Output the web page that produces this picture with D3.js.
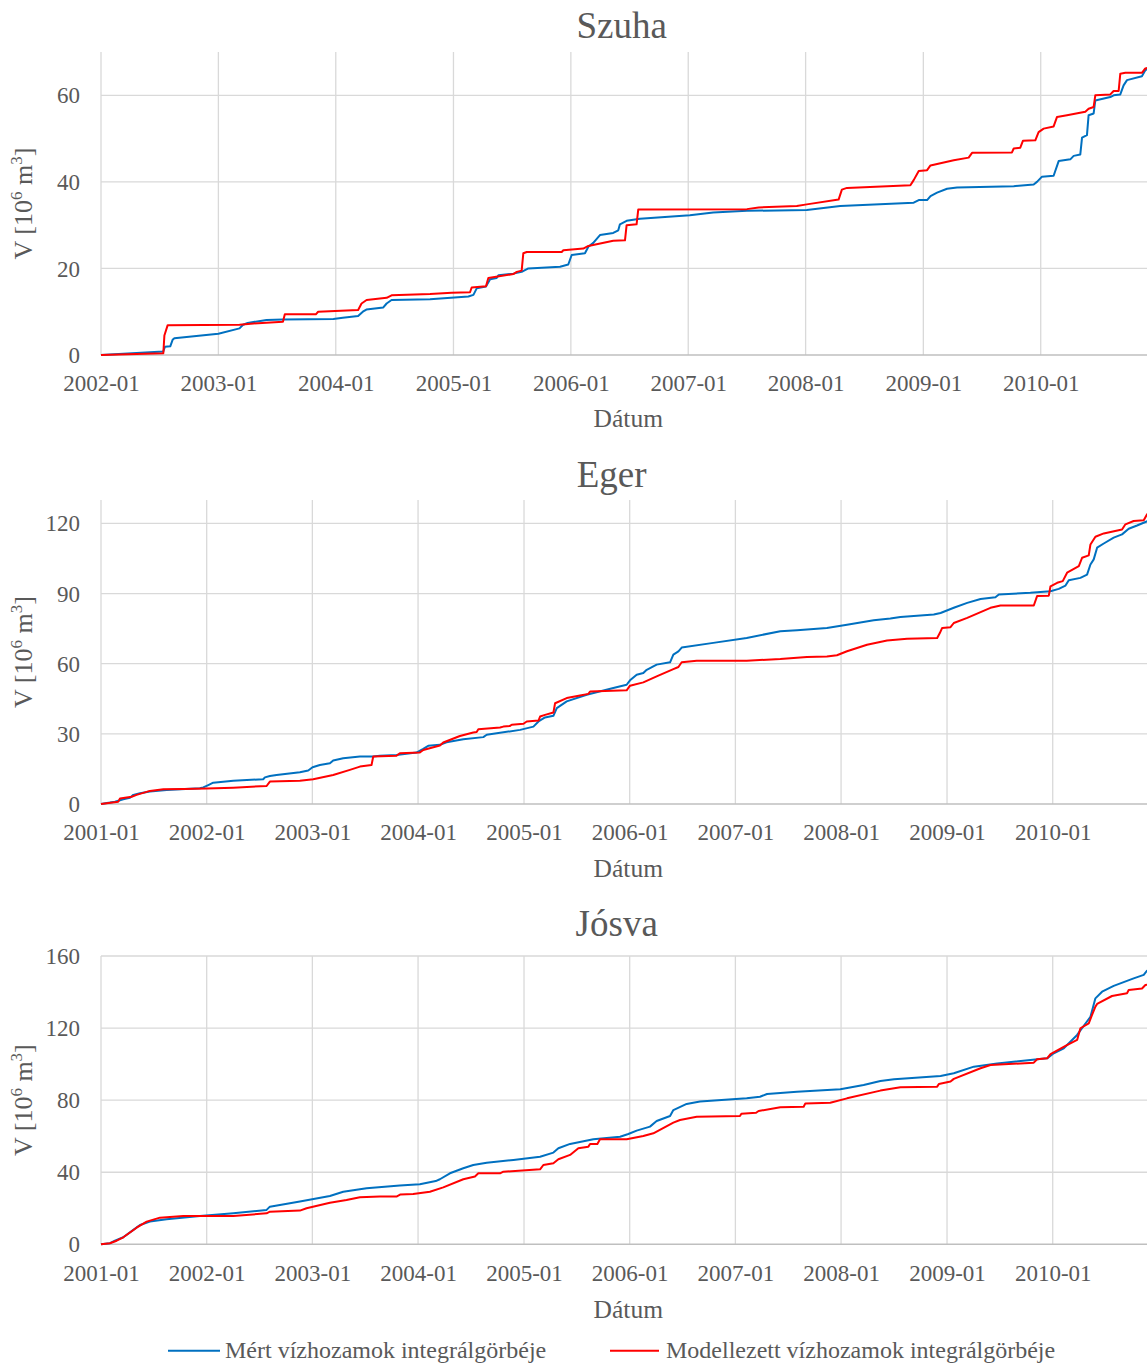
<!DOCTYPE html>
<html>
<head>
<meta charset="utf-8">
<script src="https://cdn.jsdelivr.net/npm/d3@7"></script>
<style>
  body { margin: 0; background: #fff; }
  svg { display: block; }
  text { font-family: "Liberation Serif", "Times New Roman", serif; fill: #595959; }
</style>
</head>
<body>
<svg id="chart" width="1147" height="1364"></svg>
<script>
// Cumulative runoff volume curves [decimal year, V in 10^6 m3]

const szuhaMert = [
  [2002.0,0],[2002.53,0.8],[2002.545,1.9],[2002.59,2.0],[2002.61,3.5],[2002.625,3.85],
  [2003.0,4.9],[2003.18,6.15],[2003.21,7.0],[2003.25,7.4],[2003.41,8.1],[2003.55,8.2],
  [2003.98,8.3],[2004.06,8.6],[2004.19,9.0],[2004.23,10.0],[2004.26,10.5],[2004.404,11.0],
  [2004.432,11.9],[2004.474,12.7],[2004.801,12.9],[2005.127,13.5],[2005.17,13.9],[2005.198,15.4],
  [2005.277,15.8],[2005.312,17.5],[2005.368,17.8],[2005.383,18.4],[2005.51,18.8],[2005.581,19.2],
  [2005.638,20.0],[2005.908,20.4],[2005.978,20.9],[2006.007,23.1],[2006.12,23.5],[2006.149,25.0],
  [2006.191,25.9],[2006.248,27.7],[2006.361,28.2],[2006.404,28.8],[2006.418,30.2],[2006.475,31.0],
  [2006.589,31.5],[2007.014,32.3],[2007.213,32.9],[2007.5,33.3],[2008.01,33.5],[2008.294,34.4],
  [2008.918,35.2],[2008.961,35.8],[2009.032,35.8],[2009.061,36.7],[2009.117,37.5],[2009.202,38.4],
  [2009.287,38.7],[2009.77,39.0],[2009.94,39.4],[2009.968,40.0],[2010.011,41.2],[2010.11,41.4],
  [2010.153,44.8],[2010.252,45.2],[2010.281,46.0],[2010.337,46.3],[2010.352,50.2],[2010.394,50.8],
  [2010.408,55.4],[2010.451,55.8],[2010.465,58.8],[2010.593,59.6],[2010.621,60.0],[2010.678,60.2],
  [2010.706,62.3],[2010.735,63.5],[2010.862,64.4],[2010.891,65.8],[2010.93,66.3]
];
const szuhaModell = [
  [2002.0,0],[2002.531,0.4],[2002.54,4.5],[2002.568,6.9],[2003.18,7.0],[2003.3,7.3],
  [2003.55,7.7],[2003.566,9.4],[2003.83,9.4],[2003.85,10.0],[2004.19,10.4],[2004.219,11.9],
  [2004.262,12.7],[2004.432,13.2],[2004.474,13.8],[2004.801,14.1],[2004.985,14.4],[2005.141,14.5],
  [2005.155,15.6],[2005.277,15.9],[2005.297,17.8],[2005.51,18.7],[2005.539,19.2],[2005.581,19.5],
  [2005.595,23.5],[2005.624,23.8],[2005.922,23.8],[2005.936,24.2],[2006.106,24.6],[2006.149,25.2],
  [2006.361,26.4],[2006.461,26.5],[2006.475,30.0],[2006.56,30.2],[2006.574,33.6],[2007.5,33.7],
  [2007.6,34.1],[2007.925,34.4],[2008.01,34.8],[2008.28,35.9],[2008.308,38.2],[2008.351,38.6],
  [2008.89,39.2],[2008.918,40.4],[2008.961,42.5],[2009.032,42.7],[2009.061,43.8],[2009.259,45.0],
  [2009.386,45.6],[2009.415,46.7],[2009.755,46.8],[2009.77,47.7],[2009.826,47.9],[2009.849,49.5],
  [2009.954,49.6],[2009.982,51.5],[2010.025,52.3],[2010.11,52.8],[2010.139,55.0],[2010.224,55.4],
  [2010.38,56.2],[2010.408,56.9],[2010.451,57.3],[2010.465,60.0],[2010.593,60.2],[2010.621,61.0],
  [2010.664,61.0],[2010.678,65.0],[2010.721,65.2],[2010.862,65.2],[2010.891,66.2],[2010.93,66.4]
];

const egerMert = [
  [2001.0,0],[2001.085,0.6],[2001.132,1.0],[2001.164,1.4],[2001.211,2.0],[2001.274,2.7],
  [2001.306,3.9],[2001.369,4.6],[2001.463,5.3],[2001.621,6.0],[2001.936,6.7],[2001.968,7.1],
  [2002.015,8.1],[2002.062,9.1],[2002.252,9.9],[2002.535,10.6],[2002.551,11.4],[2002.598,12.0],
  [2002.661,12.4],[2002.882,13.6],[2002.961,14.3],[2003.002,15.7],[2003.071,16.7],[2003.166,17.4],
  [2003.197,18.6],[2003.292,19.6],[2003.45,20.3],[2003.576,20.3],[2003.639,20.6],[2003.796,21.0],
  [2003.985,22.0],[2004.049,23.6],[2004.096,24.9],[2004.206,25.3],[2004.269,26.4],[2004.427,27.7],
  [2004.616,28.6],[2004.648,29.6],[2004.963,31.7],[2005.089,33.1],[2005.137,35.3],[2005.199,37.0],
  [2005.278,37.7],[2005.31,41.0],[2005.404,43.9],[2005.593,46.7],[2005.845,49.6],[2005.971,51.0],
  [2006.003,52.9],[2006.066,55.3],[2006.129,56.0],[2006.161,57.4],[2006.255,59.6],[2006.382,60.6],
  [2006.413,63.9],[2006.461,65.3],[2006.492,66.9],[2006.791,68.9],[2007.107,71.0],[2007.425,73.9],
  [2007.583,74.3],[2007.866,75.3],[2008.056,76.7],[2008.308,78.6],[2008.465,79.3],[2008.56,80.0],
  [2008.875,81.0],[2008.939,81.7],[2009.064,83.9],[2009.191,86.0],[2009.317,87.7],[2009.458,88.4],
  [2009.49,89.6],[2009.789,90.3],[2009.979,91.0],[2010.057,92.0],[2010.121,93.4],[2010.152,95.7],
  [2010.262,96.7],[2010.325,98.1],[2010.357,102.4],[2010.388,104.6],[2010.42,109.6],[2010.483,111.4],
  [2010.577,113.9],[2010.656,115.3],[2010.719,117.7],[2010.798,119.1],[2010.877,120.6],[2010.93,121.5]
];
const egerModell = [
  [2001.0,0],[2001.164,1.0],[2001.18,2.4],[2001.29,3.1],[2001.337,3.9],[2001.463,5.6],
  [2001.59,6.3],[2001.779,6.4],[2001.999,6.6],[2002.252,7.0],[2002.567,7.7],[2002.598,9.6],
  [2002.882,9.9],[2003.008,10.6],[2003.197,12.4],[2003.355,14.6],[2003.45,16.0],[2003.56,16.7],
  [2003.576,20.3],[2003.796,20.6],[2003.828,21.7],[2004.017,22.0],[2004.049,23.1],[2004.206,25.0],
  [2004.238,26.3],[2004.395,29.1],[2004.521,30.6],[2004.553,30.8],[2004.569,32.0],[2004.774,32.7],
  [2004.805,33.1],[2004.868,33.4],[2004.884,33.9],[2004.995,34.3],[2005.026,35.3],[2005.137,35.7],
  [2005.152,37.4],[2005.199,38.1],[2005.278,39.1],[2005.294,43.1],[2005.404,45.3],[2005.53,46.4],
  [2005.609,47.1],[2005.625,48.1],[2005.971,48.6],[2006.003,50.6],[2006.129,52.0],[2006.255,54.6],
  [2006.413,57.7],[2006.461,58.6],[2006.492,60.6],[2006.634,61.3],[2007.107,61.3],[2007.296,61.7],
  [2007.425,62.0],[2007.677,62.9],[2007.866,63.1],[2007.961,63.6],[2008.056,65.3],[2008.245,68.1],
  [2008.434,69.9],[2008.623,70.7],[2008.907,71.0],[2008.932,73.1],[2008.954,75.3],[2009.033,75.6],
  [2009.064,77.4],[2009.191,79.6],[2009.411,83.9],[2009.506,84.9],[2009.821,84.9],[2009.852,88.9],
  [2009.963,89.1],[2009.979,93.1],[2010.042,94.6],[2010.095,95.3],[2010.136,98.9],[2010.247,101.7],
  [2010.278,105.3],[2010.341,106.3],[2010.357,111.0],[2010.404,114.3],[2010.483,115.7],[2010.656,117.4],
  [2010.688,119.6],[2010.766,121.0],[2010.861,121.3],[2010.893,123.9],[2010.93,124.5]
];

const josvaMert = [
  [2001.0,0],[2001.085,0.6],[2001.132,2.0],[2001.211,3.9],[2001.306,8.0],[2001.369,10.7],
  [2001.463,12.6],[2001.621,13.9],[2001.936,15.7],[2002.252,17.2],[2002.567,19.1],[2002.598,20.9],
  [2002.882,23.7],[2003.166,26.8],[2003.292,29.2],[2003.513,31.1],[2003.828,32.6],[2004.017,33.3],
  [2004.167,35.1],[2004.206,36.1],[2004.301,39.4],[2004.427,42.2],[2004.521,44.0],[2004.648,45.3],
  [2004.9,46.8],[2005.152,48.6],[2005.278,50.9],[2005.325,53.3],[2005.436,55.7],[2005.656,58.3],
  [2005.909,59.7],[2005.987,61.2],[2006.066,63.1],[2006.192,65.3],[2006.255,68.4],[2006.382,71.2],
  [2006.413,74.5],[2006.539,77.9],[2006.665,79.2],[2007.107,81.0],[2007.233,81.9],[2007.299,83.4],
  [2007.583,84.7],[2007.993,86.0],[2008.213,88.4],[2008.371,90.6],[2008.5,91.6],[2008.939,93.4],
  [2009.064,94.9],[2009.254,98.6],[2009.474,100.4],[2009.947,103.2],[2010.01,106.0],[2010.105,108.8],
  [2010.231,116.2],[2010.357,126.3],[2010.404,136.5],[2010.467,140.2],[2010.577,143.4],[2010.766,147.6],
  [2010.861,149.5],[2010.893,151.9],[2010.93,152.5]
];
const josvaModell = [
  [2001.0,0],[2001.085,0.6],[2001.148,2.0],[2001.211,3.9],[2001.337,9.2],[2001.432,12.6],
  [2001.558,14.8],[2001.779,15.7],[2002.252,15.7],[2002.567,17.2],[2002.598,18.1],[2002.882,18.7],
  [2002.945,20.0],[2003.166,23.1],[2003.323,24.6],[2003.45,26.1],[2003.639,26.5],[2003.796,26.5],
  [2003.834,27.7],[2003.954,27.9],[2004.112,29.2],[2004.238,31.6],[2004.427,36.1],[2004.537,37.6],
  [2004.569,39.4],[2004.774,39.4],[2004.805,40.3],[2005.152,41.6],[2005.183,44.0],[2005.278,45.0],
  [2005.325,47.2],[2005.436,49.6],[2005.514,53.3],[2005.609,54.2],[2005.625,55.7],[2005.694,55.7],
  [2005.719,58.3],[2005.971,58.3],[2006.129,60.1],[2006.224,61.6],[2006.413,67.5],[2006.476,69.0],
  [2006.634,70.8],[2007.043,71.2],[2007.057,72.5],[2007.196,73.0],[2007.22,74.0],[2007.425,76.0],
  [2007.646,76.3],[2007.662,78.2],[2007.898,78.6],[2008.056,81.0],[2008.371,85.3],[2008.56,87.1],
  [2008.907,87.5],[2008.923,89.0],[2009.033,90.3],[2009.064,91.8],[2009.317,97.7],[2009.411,99.5],
  [2009.821,100.8],[2009.852,102.7],[2009.947,103.2],[2009.979,105.6],[2010.121,110.1],[2010.231,113.4],
  [2010.262,119.9],[2010.341,122.6],[2010.372,127.3],[2010.404,131.9],[2010.42,133.4],[2010.561,137.8],
  [2010.703,139.3],[2010.719,141.1],[2010.845,142.0],[2010.877,143.9],[2010.93,144.3]
];

// Axis settings
const szuhaYTicks = [0, 20, 40, 60];
const egerYTicks = [0, 30, 60, 90, 120];
const josvaYTicks = [0, 40, 80, 120, 160];
const seriesNames = ["Mért vízhozamok integrálgörbéje", "Modellezett vízhozamok integrálgörbéje"];
const seriesColors = ["#0070C0", "#FF0000"];

const SERIF = '"Liberation Serif", "Times New Roman", serif';
const INK = "#595959";

// decimal year -> Date (UTC)
function toDate(y) {
  const yr = Math.floor(y);
  const s = Date.UTC(yr, 0, 1), e = Date.UTC(yr + 1, 0, 1);
  return new Date(s + (y - yr) * (e - s));
}

const svg = d3.select("#chart");
svg.append("rect").attr("width", 1147).attr("height", 1364).attr("fill", "#fff");

const panels = [
  { title: "Szuha", mert: szuhaMert, modell: szuhaModell, yMax: 70, yTicks: szuhaYTicks,
    startYear: 2002, endYear: 2011, top: 52, bottom: 355, left: 101, right: 1158.1,
    titleX: 621.7, titleY: 38.3, xTitleY: 427 },
  { title: "Eger", mert: egerMert, modell: egerModell, yMax: 130, yTicks: egerYTicks,
    startYear: 2001, endYear: 2011, top: 500, bottom: 804, left: 101, right: 1158.4,
    titleX: 611.7, titleY: 487, xTitleY: 876.7 },
  { title: "Jósva", mert: josvaMert, modell: josvaModell, yMax: 160, yTicks: josvaYTicks,
    startYear: 2001, endYear: 2011, top: 956, bottom: 1244.3, left: 101, right: 1158.4,
    titleX: 616.7, titleY: 936, xTitleY: 1318 }
];

function styleText(sel, size) {
  sel.attr("font-size", size).attr("font-family", SERIF).attr("fill", INK)
    .style("font-family", SERIF).style("font-size", size + "px").style("fill", INK);
}

panels.forEach(p => {
  const x = d3.scaleUtc()
    .domain([new Date(Date.UTC(p.startYear, 0, 1)), new Date(Date.UTC(p.endYear, 0, 1))])
    .range([p.left, p.right]);
  const y = d3.scaleLinear().domain([0, p.yMax]).range([p.bottom, p.top]);
  const years = d3.utcYear.range(new Date(Date.UTC(p.startYear, 0, 1)), new Date(Date.UTC(p.endYear - 1, 0, 2)));

  const g = svg.append("g");

  // horizontal gridlines
  g.append("g").selectAll("line").data(p.yTicks.filter(v => v > 0)).join("line")
    .attr("x1", p.left).attr("x2", p.right)
    .attr("y1", d => y(d)).attr("y2", d => y(d))
    .attr("stroke", "#d9d9d9").attr("stroke-width", 1.3);

  // vertical gridlines at each January
  g.append("g").selectAll("line").data(years).join("line")
    .attr("x1", d => x(d)).attr("x2", d => x(d))
    .attr("y1", p.top).attr("y2", p.bottom)
    .attr("stroke", "#d9d9d9").attr("stroke-width", 1.3);

  // x axis
  const xAxis = g.append("g").attr("transform", `translate(0,${p.bottom})`)
    .call(d3.axisBottom(x).tickValues(years).tickFormat(d3.utcFormat("%Y-%m")).tickSize(0));
  xAxis.attr("font-family", SERIF);
  xAxis.select(".domain").attr("stroke", "#bfbfbf").attr("stroke-width", 1.5)
    .attr("d", `M${p.left},0H${p.right}`);
  xAxis.selectAll("text").attr("y", 36.3).attr("dy", null).call(styleText, 23);

  // y axis labels
  const yAxis = g.append("g").attr("transform", `translate(${p.left},0)`)
    .call(d3.axisLeft(y).tickValues(p.yTicks).tickSize(0).tickPadding(21));
  yAxis.attr("font-family", SERIF);
  yAxis.select(".domain").remove();
  yAxis.selectAll("text").attr("dy", "0.33em").call(styleText, 23);

  // series
  const line = d3.line().x(d => x(toDate(d[0]))).y(d => y(d[1]));
  [p.mert, p.modell].forEach((s, i) => {
    g.append("path").datum(s)
      .attr("fill", "none").attr("stroke", seriesColors[i])
      .attr("stroke-width", 2).attr("stroke-linejoin", "round")
      .attr("d", line);
  });

  // titles
  g.append("text").attr("x", p.titleX).attr("y", p.titleY)
    .attr("text-anchor", "middle").call(styleText, 37).text(p.title);
  g.append("text").attr("x", 628.3).attr("y", p.xTitleY)
    .attr("text-anchor", "middle").call(styleText, 25.5).text("Dátum");

  const yt = g.append("text")
    .attr("transform", `translate(32,${(p.top + p.bottom) / 2}) rotate(-90)`)
    .attr("text-anchor", "middle").call(styleText, 26);
  yt.append("tspan").text("V [10");
  yt.append("tspan").style("font-size", "17px").attr("dy", -10).text("6");
  yt.append("tspan").attr("dy", 10).text(" m");
  yt.append("tspan").style("font-size", "17px").attr("dy", -10).text("3");
  yt.append("tspan").attr("dy", 10).text("]");
});

// legend
const legend = svg.append("g");
const legendItems = [
  { x1: 168, x2: 220, tx: 225 },
  { x1: 610, x2: 659, tx: 666 }
];
legendItems.forEach((it, i) => {
  legend.append("line").attr("x1", it.x1).attr("x2", it.x2)
    .attr("y1", 1350.7).attr("y2", 1350.7)
    .attr("stroke", seriesColors[i]).attr("stroke-width", 2);
  legend.append("text").attr("x", it.tx).attr("y", 1357.5)
    .call(styleText, 24).text(seriesNames[i]);
});
</script>
</body>
</html>
